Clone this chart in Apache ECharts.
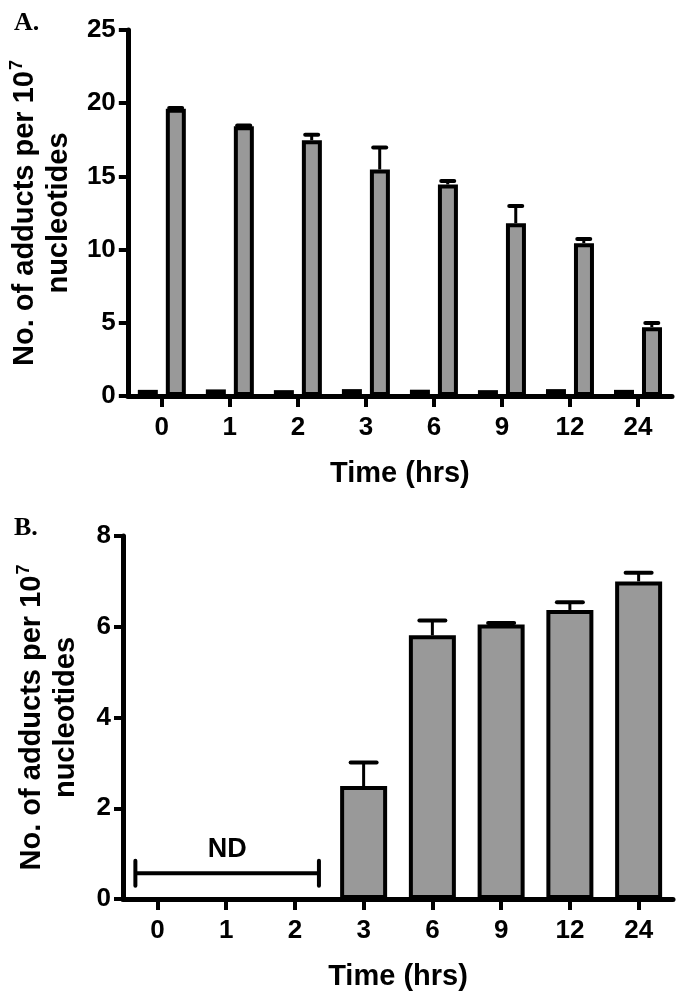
<!DOCTYPE html>
<html>
<head>
<meta charset="utf-8">
<script src="https://cdn.jsdelivr.net/npm/echarts@6/dist/echarts.min.js"></script>
<style>
html,body{margin:0;padding:0;background:#fff;}
#main{width:683px;height:1006px;}
</style>
</head>
<body>
<div id="main"></div>
<script>
// ---- data ----
const categories = ['0', '1', '2', '3', '6', '9', '12', '24'];
// Panel A
const controlA = [0.42, 0.45, 0.4, 0.47, 0.43, 0.4, 0.47, 0.42];
const treatedA = [19.62, 18.42, 17.47, 15.47, 14.45, 11.8, 10.44, 4.7];
const treatedErrA = [0.05, 0.06, 0.38, 1.5, 0.24, 1.18, 0.28, 0.28];
// Panel B ('-' = not detected)
const valuesB = ['-', '-', '-', 2.49, 5.81, 6.05, 6.37, 7.0];
const errB = [0, 0, 0, 0.52, 0.33, 0.03, 0.17, 0.19];
const ndRange = [-0.32, 2.35];   // category-index span of the ND bracket
const ndLevel = 0.57;            // y level of the ND bracket
const yTicksA = { min: 0, max: 25, interval: 5 };
const yTicksB = { min: 0, max: 8, interval: 2 };

const sans = "'Liberation Sans', Arial, sans-serif";

function errRender(offFrac, capW) {
  return function (params, api) {
    const x = api.value(0), v = api.value(1), e = api.value(2);
    if (isNaN(v) || !e) return null;
    const bw = api.size([1, 0])[0];
    const off = bw * offFrac;
    const b = api.coord([x, v]);
    const t = api.coord([x, v + e]);
    const cx = b[0] + off;
    return {
      type: 'group',
      children: [
        { type: 'line', shape: { x1: cx, y1: b[1], x2: cx, y2: t[1] }, style: { stroke: '#000', lineWidth: 3 } },
        { type: 'line', shape: { x1: cx - capW / 2, y1: t[1], x2: cx + capW / 2, y2: t[1] }, style: { stroke: '#000', lineWidth: 4, lineCap: 'round' } }
      ]
    };
  };
}

function yAxisCfg(grid, ticks) {
  return {
    type: 'value', gridIndex: grid, min: ticks.min, max: ticks.max, interval: ticks.interval,
    splitLine: { show: false },
    axisLine: { show: true, lineStyle: { color: '#000', width: 5 } },
    axisTick: { show: true, length: 9, lineStyle: { color: '#000', width: 4 } },
    axisLabel: { color: '#000', fontFamily: sans, fontWeight: 'bold', fontSize: 26, margin: 12 },
    name: '{a|No. of adducts per 10}{s|7}\n{a|nucleotides}',
    nameLocation: 'middle', nameRotate: 90, nameGap: 40,
    nameTextStyle: {
      lineHeight: 34,
      rich: {
        a: { fontFamily: sans, fontWeight: 'bold', fontSize: 29, color: '#000', lineHeight: 34 },
        s: { fontFamily: sans, fontWeight: 'bold', fontSize: 18, color: '#000', verticalAlign: 'top', lineHeight: 34, padding: [0, 0, 14, 1] }
      }
    }
  };
}

function xAxisCfg(grid) {
  return {
    type: 'category', gridIndex: grid, data: categories,
    axisLine: { show: true, lineStyle: { color: '#000', width: 5 } },
    axisTick: { show: true, alignWithLabel: true, length: 11, lineStyle: { color: '#000', width: 4 } },
    axisLabel: { color: '#000', fontFamily: sans, fontWeight: 'bold', fontSize: 26, margin: 19 },
    name: 'Time (hrs)', nameLocation: 'middle', nameGap: 63,
    nameTextStyle: { color: '#000', fontFamily: sans, fontWeight: 'bold', fontSize: 29 }
  };
}

const chart = echarts.init(document.getElementById('main'), null, { renderer: 'canvas' });
chart.setOption({
  backgroundColor: '#fff',
  animation: false,
  grid: [
    { left: 120, right: 11, top: 30, bottom: 610 },
    { left: 123, right: 10, top: 536, bottom: 107 }
  ],
  xAxis: [xAxisCfg(0), xAxisCfg(1)],
  yAxis: [yAxisCfg(0, yTicksA), yAxisCfg(1, yTicksB)],
  graphic: [
    { type: 'text', left: 14, top: 10, style: { text: 'A.', font: "bold 26px 'Liberation Serif', serif", fill: '#000' } },
    { type: 'text', left: 14, top: 515, style: { text: 'B.', font: "bold 26px 'Liberation Serif', serif", fill: '#000' } }
  ],
  series: [
    {
      type: 'bar', xAxisIndex: 0, yAxisIndex: 0, data: controlA,
      barWidth: 20, barGap: '40%',
      itemStyle: { color: '#000', borderColor: '#000', borderWidth: 4 }
    },
    {
      type: 'bar', xAxisIndex: 0, yAxisIndex: 0, data: treatedA,
      barWidth: 20, barGap: '40%',
      itemStyle: { color: '#999999', borderColor: '#000', borderWidth: 4 }
    },
    {
      type: 'custom', xAxisIndex: 0, yAxisIndex: 0, z: 3,
      renderItem: errRender(0.203, 13),
      encode: { x: 0, y: 1 },
      data: treatedA.map((v, i) => [i, v, treatedErrA[i]])
    },
    {
      type: 'bar', xAxisIndex: 1, yAxisIndex: 1, data: valuesB,
      barWidth: 47,
      itemStyle: { color: '#999999', borderColor: '#000', borderWidth: 4 }
    },
    {
      type: 'custom', xAxisIndex: 1, yAxisIndex: 1, z: 3,
      renderItem: errRender(0, 26),
      encode: { x: 0, y: 1 },
      data: valuesB.map((v, i) => [i, v === '-' ? NaN : v, errB[i]])
    },
    {
      type: 'custom', xAxisIndex: 1, yAxisIndex: 1, z: 3,
      encode: { x: 0, y: 1 },
      data: [[0, ndLevel]],
      renderItem: function (params, api) {
        const bw = api.size([1, 0])[0];
        const c0 = api.coord([0, api.value(1)]);
        const x1 = c0[0] + ndRange[0] * bw;
        const x2 = c0[0] + ndRange[1] * bw;
        const y = c0[1];
        return {
          type: 'group',
          children: [
            { type: 'line', shape: { x1: x1, y1: y, x2: x2, y2: y }, style: { stroke: '#000', lineWidth: 4 } },
            { type: 'line', shape: { x1: x1, y1: y - 12.5, x2: x1, y2: y + 12.5 }, style: { stroke: '#000', lineWidth: 4, lineCap: 'round' } },
            { type: 'line', shape: { x1: x2, y1: y - 12.5, x2: x2, y2: y + 12.5 }, style: { stroke: '#000', lineWidth: 4, lineCap: 'round' } },
            { type: 'text', style: { text: 'ND', x: (x1 + x2) / 2, y: y - 24, align: 'center', verticalAlign: 'middle', font: "bold 27px " + sans, fill: '#000' } }
          ]
        };
      }
    }
  ]
});
</script>
</body>
</html>
